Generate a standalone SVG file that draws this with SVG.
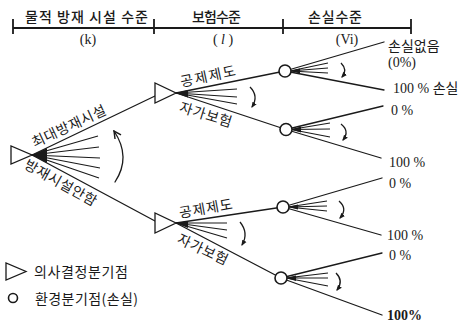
<svg xmlns="http://www.w3.org/2000/svg" width="458" height="322" viewBox="0 0 458 322">
<style>
.ln{stroke:#1a1a1a;stroke-width:1.3;fill:none;stroke-linecap:round}
.fan{stroke:#1a1a1a;stroke-width:1.2;fill:none}
.blob{fill:#1a1a1a;stroke:none}
.hook{stroke:#1a1a1a;stroke-width:1.3;fill:none;marker-end:url(#ah)}
.dec{fill:#fff;stroke:#1a1a1a;stroke-width:1.3;stroke-linejoin:miter}
.chn{fill:#fff;stroke:#1a1a1a;stroke-width:1.6}
.kr{font-family:"Noto Sans CJK KR","Noto Sans",sans-serif;font-size:14px;fill:#1a1a1a}
.sr{font-family:"Liberation Serif","DejaVu Serif",serif;font-size:14px;fill:#1a1a1a}
.hd{stroke:#1a1a1a;stroke-width:1.8;fill:none}
</style>
<defs>
<marker id="ah" viewBox="0 0 10 10" refX="8" refY="5" markerWidth="6" markerHeight="6" markerUnits="userSpaceOnUse" orient="auto">
<path d="M0,1 L10,5 L0,9 Z" fill="#1a1a1a"/>
</marker>
<marker id="av" viewBox="0 0 10 10" refX="9" refY="5" markerWidth="9" markerHeight="9" markerUnits="userSpaceOnUse" orient="auto">
<path d="M1,1 L9,5 L1,9" fill="none" stroke="#1a1a1a" stroke-width="1.6"/>
</marker>
</defs>
<rect width="458" height="322" fill="#fff"/>

<g id="header">
<path class="hd" d="M13,28 H411 M13,19 V34 M154,19 V34 M283,19 V34 M411,19 V34"/>
<text class="kr" x="25" y="22" textLength="123" lengthAdjust="spacing" font-weight="500">물적 방재 시설 수준</text>
<text class="kr" x="192" y="22" textLength="49" lengthAdjust="spacing" font-weight="500">보험수준</text>
<text class="kr" x="308" y="22" textLength="54" lengthAdjust="spacing" font-weight="500">손실수준</text>
<text class="sr" x="88" y="44" text-anchor="middle">(k)</text>
<text class="sr" x="223" y="44" text-anchor="middle">( <tspan font-style="italic">l</tspan> )</text>
<text class="sr" x="347" y="44" text-anchor="middle">(Vi)</text>
</g>

<g id="connectors">
<path class="ln" d="M32,155 L155,96"/>
<path class="ln" d="M32,155 L155,221"/>
<path class="fan" d="M32,155 L98,136 M32,155 L99,147 M32,155 L100,158 M32,155 L100,168 M32,155 L99,178"/>
<path class="blob" d="M32,155 L47,148 L47,163 Z"/>
<path class="ln" d="M115,182 Q131.5,157 114,131" marker-end="url(#av)"/>
<path class="ln" d="M176,93 L285,71"/>
<path class="ln" d="M176,93 L286,129.5"/>
<path class="fan" d="M176,93 L237,89 M176,93 L237,97 M176,93 L237,104"/>
<path class="blob" d="M176,93 L188,90 L188,97.5 Z"/>
<path class="hook" d="M250,87 Q259,96 252,107"/>
<path class="ln" d="M176,223 L283,207"/>
<path class="ln" d="M176,223 L281,278"/>
<path class="fan" d="M176,223 L227,223 M176,223 L227,230 M176,223 L227,238"/>
<path class="blob" d="M176,223 L188,221 L188,228 Z"/>
<path class="hook" d="M240,222 Q249,233 242,245"/>
<path class="ln" d="M285,71 L384,42 M285,71 L384,90"/>
<path class="fan" d="M290,71 L328,63 M290,71 L328,68 M290,71 L328,73"/>
<path class="blob" d="M290,71 L300,68.5 L300,73.5 Z"/>
<path class="hook" d="M341,63 Q348,70 342,77"/>
<path class="ln" d="M286,129.5 L383,106 M286,129.5 L381,158"/>
<path class="fan" d="M291,129.5 L330,123 M291,129.5 L330,129 M291,129.5 L330,137"/>
<path class="blob" d="M291,129.5 L301,126.5 L301,132.5 Z"/>
<path class="hook" d="M341,124 Q350,131 343,140"/>
<path class="ln" d="M283,207 L382,178 M283,207 L381,235"/>
<path class="fan" d="M288,207 L327,201 M288,207 L327,206 M288,207 L327,211"/>
<path class="blob" d="M288,207 L298,204.5 L298,209.5 Z"/>
<path class="hook" d="M339,201 Q348,209 340,218"/>
<path class="ln" d="M281,278 L382,253 M281,278 L382,315"/>
<path class="fan" d="M286,278 L328,273 M286,278 L328,278 M286,278 L328,286"/>
<path class="blob" d="M286,278 L296,275.5 L296,281 Z"/>
<path class="hook" d="M336,273 Q344,281 337,290"/>
</g>

<g id="root"><path class="dec" d="M11,146 L11,164 L32,155 Z"/></g>
<g id="d-upper"><path class="dec" d="M155,83 L155,103 L176,93 Z"/></g>
<g id="d-lower"><path class="dec" d="M155,213 L155,233 L176,223 Z"/></g>
<g id="c1"><circle class="chn" cx="285" cy="71" r="6"/></g>
<g id="c2"><circle class="chn" cx="286" cy="129.5" r="6"/></g>
<g id="c3"><circle class="chn" cx="283" cy="207" r="6"/></g>
<g id="c4"><circle class="chn" cx="281" cy="278" r="6"/></g>

<g id="branch-labels">
<text class="kr" text-anchor="middle" transform="translate(73,135.3) rotate(-25)" y="-5" textLength="80" lengthAdjust="spacing">최대방재시설</text>
<text class="kr" text-anchor="middle" transform="translate(66,173.2) rotate(29)" y="16" textLength="80" lengthAdjust="spacing">방재시설안함</text>
<text class="kr" text-anchor="middle" transform="translate(210,86) rotate(-12)" y="-5" textLength="56" lengthAdjust="spacing">공제제도</text>
<text class="kr" text-anchor="middle" transform="translate(209,104) rotate(17)" y="16" textLength="54" lengthAdjust="spacing">자가보험</text>
<text class="kr" text-anchor="middle" transform="translate(207.5,218.3) rotate(-10)" y="-5" textLength="54" lengthAdjust="spacing">공제제도</text>
<text class="kr" text-anchor="middle" transform="translate(207.5,239.4) rotate(25)" y="16" textLength="54" lengthAdjust="spacing">자가보험</text>
</g>

<g id="outcome-labels">
<text class="kr" x="388" y="51">손실없음</text>
<text class="sr" x="388" y="67">(0%)</text>
<text x="393" y="93"><tspan class="sr">100 % </tspan><tspan class="kr">손실</tspan></text>
<text class="sr" x="391" y="115">0 %</text>
<text class="sr" x="389" y="167">100 %</text>
<text class="sr" x="389" y="188">0 %</text>
<text class="sr" x="387" y="240">100 %</text>
<text class="sr" x="389" y="260">0 %</text>
<text class="sr" x="387" y="320" font-weight="bold">100%</text>
</g>

<g id="legend">
<path class="dec" d="M6,263 L6,280 L26,271.5 Z"/>
<text class="kr" x="34" y="277" textLength="94" lengthAdjust="spacing">의사결정분기점</text>
<circle class="chn" cx="13" cy="298" r="4.5"/>
<text class="kr" x="35" y="304" textLength="103" lengthAdjust="spacing">환경분기점(손실)</text>
</g>
</svg>
